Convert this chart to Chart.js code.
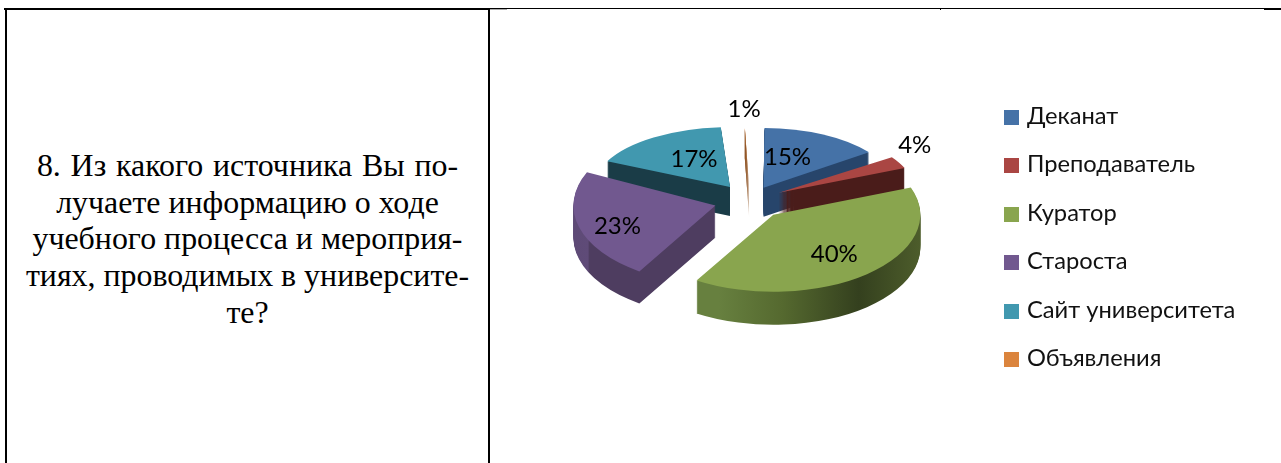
<!DOCTYPE html>
<html lang="ru">
<head>
<meta charset="utf-8">
<title>Источник информации</title>
<script src="https://cdn.jsdelivr.net/npm/chart.js@4"></script>
<style>
    html, body { margin: 0; padding: 0; background: #fff; overflow: hidden; }
    body { width: 1281px; height: 463px; position: relative; }
    .line { position: absolute; background: #000; }
    #question {
        position: absolute; left: 7px; width: 481px; top: 148px;
        text-align: center; color: #000;
        font: 31.9px/36.7px "Liberation Serif", serif;
    }
    #chartBox { position: absolute; left: 490px; top: 0; width: 791px; height: 463px; }
    #legend { position: absolute; left: 1004px; top: 91px; color: #111; font: 23.7px/48.4px Lato, "Noto Sans", sans-serif; }
    #legend div { white-space: nowrap; height: 48.4px; }
    #legend i { display: inline-block; width: 15px; height: 15px; margin-right: 8px; vertical-align: -1px; }
</style>
</head>
<body>
<!-- table borders -->
<div class="line" style="left:4px;top:8px;width:486px;height:2px"></div>
<div class="line" style="left:5px;top:10px;width:2px;height:453px"></div>
<div class="line" style="left:488px;top:10px;width:2px;height:453px"></div>
<div class="line" style="left:490px;top:8px;width:791px;height:1px"></div>
<div class="line" style="left:490px;top:9px;width:17px;height:1px;background:#aaa"></div>
<div class="line" style="left:940px;top:9px;width:1px;height:1px"></div>
<div class="line" style="left:1264px;top:9px;width:17px;height:1px"></div>

<div id="question"><span style="word-spacing:1.8px">8. Из какого источника Вы по-</span><br>лучаете информацию о ходе<br>учебного процесса и мероприя-<br>тиях, проводимых в университе-<br>те?</div>

<div id="chartBox"><canvas id="grafico" width="791" height="463"></canvas></div>
<div id="legend"></div>

<script>
// Data
const categories = ['Деканат', 'Преподаватель', 'Куратор', 'Староста', 'Сайт университета', 'Объявления'];
const values = [15, 4, 40, 23, 17, 1];
const colors = ['#4572A7', '#AA4643', '#89A54E', '#71588F', '#4198AF', '#DB843D'];

// Fake 3D view: every slice gets its own squash, so far slices look smaller than near ones
const scaleX = [0.964, 0.864, 1.015, 1.09, 1.013, 0.845];
const scaleY = [0.441, 0.397, 0.532, 0.599, 0.447, 0.367];
const explode = [31, 38, 36, 33, 35, 33];
const depth = [29, 29, 33, 32, 29, 29];
const drawOrder = [0, 5, 4, 1, 3, 2];
const labelShift = [[24, -31], [136, -47], [61, 40], [-98, 21], [-36, -28], [-5, -79]];
const pieCenter = [260, 200];

// Side wall colours, left to right across the pie
const wallStops = [
    [[0, '#27456B'], [1, '#27456B']],
    [[0, '#4A1C1A'], [1, '#4A1C1A']],
    [[0.32, '#67803F'], [0.53, '#55692F'], [0.78, '#34401E'], [1, '#4F5F2C']],
    [[0, '#5C4973'], [0.11, '#5F4B78'], [0.115, '#4E3D60'], [1, '#4E3D60']],
    [[0, '#1A3C47'], [1, '#1A3C47']],
    [[0, '#8A4D1C'], [1, '#8A4D1C']]
];

const pie3d = {
    id: 'pie3d',
    beforeDatasetDraw(chart, args) {
        const ctx = chart.ctx;
        const arcs = args.meta.data;
        drawOrder.forEach(i => {
            const arc = arcs[i];
            const topOptions = arc.options;
            const view = (dy) => {
                ctx.setTransform(1, 0, 0, 1, 0, 0);
                ctx.translate(pieCenter[0], pieCenter[1] + dy);
                ctx.scale(scaleX[i], scaleY[i]);
                ctx.translate(-arc.x, -arc.y);
            };
            ctx.save();
            // side wall: the slice stamped again and again going down
            const g = ctx.createLinearGradient(arc.x - 150, 0, arc.x + 150, 0);
            wallStops[i].forEach(s => g.addColorStop(s[0], s[1]));
            const wall = Object.create(topOptions);
            wall.backgroundColor = g;
            arc.options = wall;
            for (let dy = depth[i]; dy > 0; dy--) {
                view(dy);
                arc.draw(ctx);
            }
            // top face
            arc.options = topOptions;
            view(0);
            arc.draw(ctx);
            ctx.restore();
        });
        return false;
    },
    afterDatasetsDraw(chart) {
        const ctx = chart.ctx;
        const arcs = chart.getDatasetMeta(0).data;
        ctx.save();
        ctx.font = '24px Lato, "Noto Sans", sans-serif';
        ctx.fillStyle = '#000';
        ctx.textAlign = 'center';
        ctx.textBaseline = 'middle';
        arcs.forEach((arc, i) => {
            const mid = (arc.startAngle + arc.endAngle) / 2;
            const off = arc.options.offset / 4;
            const x = pieCenter[0] + Math.cos(mid) * off * scaleX[i] + labelShift[i][0];
            const y = pieCenter[1] + Math.sin(mid) * off * scaleY[i] + labelShift[i][1];
            ctx.fillText(values[i] + '%', x, y);
        });
        ctx.restore();
    }
};

new Chart(document.getElementById('grafico').getContext('2d'), {
    type: 'pie',
    data: {
        labels: categories,
        datasets: [{
            data: values,
            backgroundColor: colors,
            borderWidth: 0,
            offset: explode.map(d => d * 4)
        }]
    },
    options: {
        responsive: false,
        animation: false,
        events: [],
        radius: 130,
        plugins: {
            tooltip: { enabled: false },
            legend: { display: false }
        }
    },
    plugins: [pie3d]
});

// Legend built from the same arrays
document.getElementById('legend').innerHTML = categories
    .map((c, i) => `<div><i style="background:${colors[i]}"></i>${c}</div>`)
    .join('');
</script>
</body>
</html>
